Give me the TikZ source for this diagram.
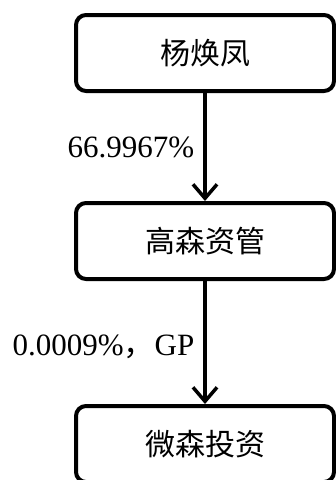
\documentclass[tikz,border=0pt]{standalone}
\usepackage{fontspec}
\setmainfont{Liberation Serif}
\newfontfamily\cjk{Noto Sans CJK SC}
\usetikzlibrary{arrows.meta, positioning}

\begin{document}
\begin{tikzpicture}[x=1pt, y=-1pt,
			>={Straight Barb[length=14pt, width=24pt]},
			entity/.style={draw, line width=4pt, rounded corners=10pt,
				minimum width=258pt, minimum height=76pt,
				font=\cjk\fontsize{30}{36}\selectfont},
			share/.style={font=\fontsize{31}{36}\selectfont, inner sep=9pt}]
			
			\useasboundingbox (0,0) rectangle (336,480);
			\node[entity] (yang) at (205,53) {杨焕凤};
			\node[entity] (gaosen) at (205,241) {高森资管};
			\node[entity] (weisen) at (205,444) {微森投资};
			\draw[->, line width=3.5pt] (yang) -- (gaosen) node[share, midway, left] {66.9967\%};
			\draw[->, line width=3.5pt] (gaosen) -- (weisen) node[share, midway, left, yshift=-4pt] {0.0009\%{\cjk ，}GP};
		\end{tikzpicture}
\end{document}
